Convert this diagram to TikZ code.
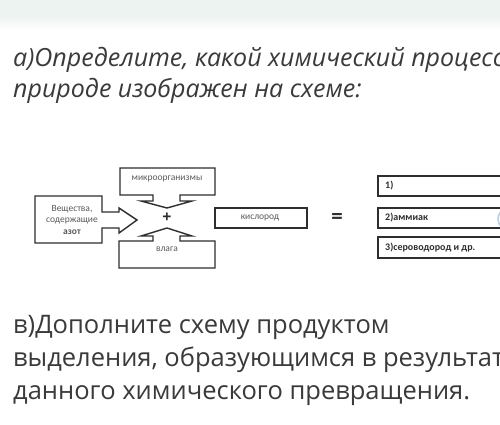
\documentclass[tikz,border=0pt]{standalone}
\usepackage{fontspec}
\setmainfont{Open Sans}
\newfontfamily\smallfont{Carlito}
\definecolor{txtc}{HTML}{3A3A3A}
\definecolor{linec}{HTML}{2E2E2E}
\definecolor{lblc}{HTML}{5A5A5A}
\definecolor{topstrip}{HTML}{EDF3F1}
\definecolor{ringc}{HTML}{B9CCE0}
\begin{document}
\begin{tikzpicture}[x=1pt,y=-1pt,
  shapeline/.style={draw=linec, line width=1.4pt, line join=miter, fill=white},
  lbl/.style={font=\smallfont\fontsize{9.5}{11.5}\selectfont, text=lblc, inner sep=0pt, align=center},
  rlbl/.style={font=\smallfont\bfseries\fontsize{10}{11}\selectfont, text=linec, anchor=west, inner sep=0pt},
  titletext/.style={font=\itshape\fontsize{25}{31}\selectfont, text=txtc, anchor=base west, inner sep=0pt},
  bodytext/.style={font=\fontsize{25.5}{33}\selectfont, text=txtc, anchor=base west, inner sep=0pt},
  sign/.style={font=\bfseries\fontsize{16}{16}\selectfont, text=linec, inner sep=0pt}]
\useasboundingbox (0,0) rectangle (500,424);
\clip (0,0) rectangle (500,424);
\fill[white] (0,0) rectangle (500,424);
\fill[topstrip] (0,0) rectangle (500,16);
\shade[top color=topstrip, bottom color=white] (0,16) rectangle (500,30);

% title
\node[titletext] (t1) at (13,66) {а)Определите, какой химический процесс в};
\node[titletext] (t2) at (13,97) {природе изображен на схеме:};

% left box with arrow
\draw[shapeline] (35,196) -- (102,196) -- (102,212) -- (119,212) -- (119,208) -- (137,220)
  -- (119,233) -- (119,228) -- (102,228) -- (102,243) -- (35,243) -- cycle;
\node[lbl] (subst) at (72,219.5) {Вещества,\\содержащие\\\textbf{азот}};

% top box with down arrow
\draw[shapeline] (120,168) -- (215,168) -- (215,195) -- (180,195) -- (180,201) -- (192,201)
  -- (167,208) -- (141,201) -- (153,201) -- (153,195) -- (120,195) -- cycle;
\node[lbl] (micro) at (167,179) {микроорганизмы};

% bottom box with up arrow
\draw[shapeline] (119,268) -- (119,241) -- (153,241) -- (153,236) -- (141,236) -- (167,228)
  -- (192,236) -- (180,236) -- (180,241) -- (215,241) -- (215,268) -- cycle;
\node[lbl] (vlaga) at (167,249) {влага};

\node[sign] (plus) at (167,218) {+};

% oxygen
\draw[shapeline] (215,208) rectangle (307,228);
\node[lbl] (oxy) at (260,218) {кислород};

\node[sign, font=\bfseries\fontsize{20}{20}\selectfont] (eq) at (337,218) {=};

% products
\draw[shapeline] (378,176) rectangle (510,196);
\draw[shapeline] (378,208) rectangle (510,228);
\draw[shapeline] (378,237) rectangle (510,258);
\node[rlbl] (p1) at (385,186) {1)};
\node[rlbl] (p2) at (385,218) {2)аммиак};
\node[rlbl] (p3) at (385,247.5) {3)сероводород и др.};
\draw[ringc, line width=1.5pt] (509,219) circle (11);

% part b
\node[bodytext] (b1) at (13,333) {в)Дополните схему продуктом};
\node[bodytext] (b2) at (13,366) {выделения, образующимся в результате};
\node[bodytext] (b3) at (13,399) {данного химического превращения.};
\end{tikzpicture}
\end{document}
